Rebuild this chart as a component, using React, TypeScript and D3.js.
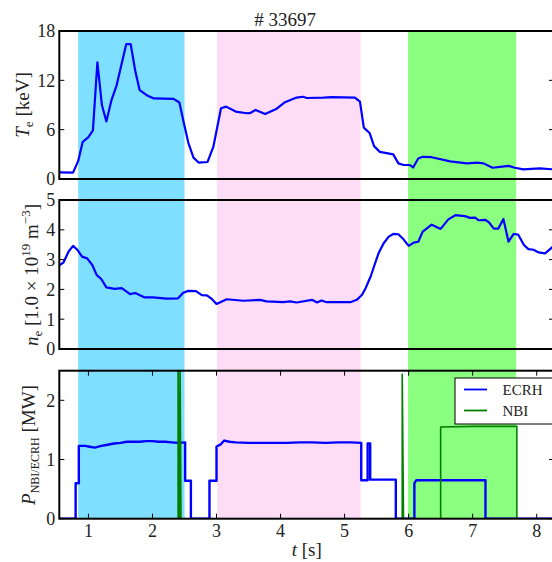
import React, { useRef, useEffect } from "react";
import * as d3 from "d3";

// Te [keV]
const teTime = [0.55, 0.76, 0.84, 0.91, 1.0, 1.07, 1.14, 1.21, 1.28, 1.36, 1.44, 1.59, 1.66, 1.73, 1.8, 1.91, 2.02, 2.33, 2.42, 2.49, 2.56, 2.64, 2.72, 2.86, 2.95, 3.07, 3.15, 3.3, 3.47, 3.52, 3.61, 3.76, 3.94, 4.06, 4.25, 4.35, 4.41, 4.67, 4.8, 5.16, 5.24, 5.3, 5.39, 5.46, 5.55, 5.76, 5.84, 5.92, 6.02, 6.07, 6.15, 6.22, 6.36, 6.65, 6.91, 7.07, 7.17, 7.31, 7.46, 7.56, 7.66, 7.79, 8.05, 8.3];
const teVal = [0.8, 0.77, 2.2, 4.5, 5.1, 5.9, 14.2, 9.0, 7.0, 9.6, 11.4, 16.4, 16.4, 13.2, 10.8, 10.2, 9.8, 9.75, 9.3, 6.8, 4.4, 2.6, 2.0, 2.07, 3.9, 8.6, 8.8, 8.2, 8.0, 8.0, 8.4, 7.9, 8.55, 9.3, 9.9, 10.0, 9.85, 9.9, 9.95, 9.9, 9.4, 6.25, 5.6, 4.0, 3.3, 3.0, 1.9, 1.7, 1.7, 1.4, 2.5, 2.7, 2.65, 2.15, 1.9, 2.0, 1.9, 1.37, 1.5, 1.6, 1.37, 1.17, 1.3, 1.15];

// ne [1e19 m^-3]
const neTime = [0.55, 0.61, 0.69, 0.76, 0.83, 0.9, 0.98, 1.06, 1.13, 1.2, 1.28, 1.41, 1.52, 1.65, 1.73, 1.88, 2.01, 2.22, 2.4, 2.48, 2.56, 2.68, 2.77, 2.85, 2.93, 3.0, 3.16, 3.42, 3.68, 3.78, 4.04, 4.15, 4.25, 4.49, 4.57, 4.64, 4.72, 5.09, 5.19, 5.27, 5.33, 5.41, 5.45, 5.53, 5.61, 5.69, 5.76, 5.84, 5.92, 6.0, 6.08, 6.15, 6.22, 6.36, 6.5, 6.62, 6.73, 6.88, 6.96, 7.04, 7.09, 7.2, 7.25, 7.33, 7.4, 7.48, 7.56, 7.64, 7.71, 7.8, 7.87, 7.95, 8.03, 8.13, 8.24, 8.3];
const neVal = [2.82, 2.9, 3.27, 3.46, 3.32, 3.1, 3.04, 2.82, 2.48, 2.35, 2.07, 2.02, 2.04, 1.84, 1.88, 1.73, 1.73, 1.69, 1.7, 1.89, 1.95, 1.94, 1.81, 1.8, 1.67, 1.51, 1.67, 1.62, 1.65, 1.6, 1.57, 1.6, 1.56, 1.65, 1.56, 1.63, 1.57, 1.57, 1.65, 1.81, 2.05, 2.45, 2.71, 3.21, 3.55, 3.77, 3.86, 3.85, 3.68, 3.46, 3.57, 3.6, 3.94, 4.17, 4.03, 4.35, 4.49, 4.46, 4.4, 4.41, 4.32, 4.33, 4.26, 4.04, 4.04, 4.36, 3.6, 3.86, 3.84, 3.49, 3.35, 3.33, 3.24, 3.21, 3.41, 3.55];

// ECRH [MW]
const ecrhTime = [0.55, 0.8, 0.8, 0.85, 0.85, 0.95, 1.0, 1.1, 1.2, 1.3, 1.4, 1.5, 1.6, 1.7, 1.8, 1.9, 2.0, 2.1, 2.2, 2.3, 2.4, 2.51, 2.51, 2.6, 2.6, 2.89, 2.89, 3.0, 3.0, 3.06, 3.12, 3.2, 3.3, 3.5, 3.7, 3.9, 4.1, 4.3, 4.5, 4.7, 4.9, 5.1, 5.26, 5.26, 5.36, 5.36, 5.4, 5.4, 5.8, 5.8, 6.09, 6.09, 6.12, 7.2, 7.2, 8.3];
const ecrhVal = [0, 0, 0.6, 0.6, 1.23, 1.23, 1.22, 1.2, 1.23, 1.25, 1.27, 1.28, 1.3, 1.3, 1.3, 1.31, 1.31, 1.3, 1.3, 1.29, 1.28, 1.29, 0.64, 0.64, 0, 0, 0.64, 0.64, 1.22, 1.25, 1.32, 1.3, 1.29, 1.28, 1.28, 1.28, 1.28, 1.29, 1.29, 1.28, 1.29, 1.29, 1.28, 0.65, 0.65, 1.27, 1.27, 0.66, 0.66, 0, 0, 0.6, 0.65, 0.65, 0, 0];

// NBI [MW]
const nbiTime = [0.55, 2.4, 2.4, 2.415, 2.43, 2.43, 2.445, 5.9, 5.9, 5.92, 6.5, 6.5, 7.0, 7.69, 7.69, 8.3];
const nbiVal = [0, 0, 2.8, 0, 0, 2.8, 0, 0, 2.44, 0, 0, 1.55, 1.56, 1.56, 0, 0];

// heating phases [s]
const phaseStart = [0.84, 3.01, 5.99];
const phaseEnd = [2.5, 5.25, 7.68];
const phaseColor = ["#7fdfff", "#fddcf6", "#8aff80"];

const xTicks = [1, 2, 3, 4, 5, 6, 7, 8];
const teTicks = [0, 6, 12, 18];
const neTicks = [0, 1, 2, 3, 4, 5];
const pTicks = [0, 1, 2];

const FONT = "Liberation Serif";

export default function App() {
  const ref = useRef<SVGSVGElement>(null);

  useEffect(() => {
    const svg = d3.select(ref.current);
    svg.selectChildren().remove();
    svg.attr("font-family", FONT);

    const x = d3.scaleLinear().domain([0.545, 8.27]).range([59.3, 554]);
    const x0 = x.range()[0],
      x1 = x.range()[1];

    const panels = [
      { y: d3.scaleLinear().domain([0, 18]).range([179, 31]), ticks: teTicks },
      { y: d3.scaleLinear().domain([0, 5]).range([349, 200]), ticks: neTicks },
      { y: d3.scaleLinear().domain([0, 2.5]).range([518.7, 370.7]), ticks: pTicks },
    ];

    // Fases sombreadas
    svg
      .append("g")
      .selectAll("rect")
      .data(phaseStart)
      .join("rect")
      .attr("x", (d) => x(d))
      .attr("width", (d, i) => x(phaseEnd[i]) - x(d))
      .attr("y", 31)
      .attr("height", 518.7 - 31)
      .attr("fill", (d, i) => phaseColor[i]);

    const series = [
      [{ t: teTime, v: teVal, color: "#0000ff", w: 2.2 }],
      [{ t: neTime, v: neVal, color: "#0000ff", w: 2.2 }],
      [
        { t: ecrhTime, v: ecrhVal, color: "#0000ff", w: 2.4 },
        { t: nbiTime, v: nbiVal, color: "#007f00", w: 1.6 },
      ],
    ];

    panels.forEach((p, k) => {
      const [yb, yt] = p.y.range();
      const clipId = `clip${k}`;
      svg
        .append("clipPath")
        .attr("id", clipId)
        .append("rect")
        .attr("x", x0)
        .attr("y", yt)
        .attr("width", x1 - x0)
        .attr("height", yb - yt);

      const g = svg.append("g").attr("clip-path", `url(#${clipId})`);
      series[k].forEach((s) => {
        const line = d3
          .line<number>()
          .x((d) => x(d))
          .y((d, i) => p.y(s.v[i]));
        g.append("path")
          .attr("d", line(s.t))
          .attr("fill", "none")
          .attr("stroke", s.color)
          .attr("stroke-width", s.w)
          .attr("stroke-linejoin", "round");
      });

      // Ticks Y (izquierda y derecha, hacia dentro)
      const tk = svg.append("g").attr("stroke", "black").attr("stroke-width", 1);
      p.ticks.forEach((t) => {
        tk.append("line").attr("x1", x0).attr("x2", x0 + 5).attr("y1", p.y(t)).attr("y2", p.y(t));
        tk.append("line").attr("x1", x1).attr("x2", x1 - 5).attr("y1", p.y(t)).attr("y2", p.y(t));
      });
      svg
        .append("g")
        .selectAll("text")
        .data(p.ticks)
        .join("text")
        .attr("x", x0 - 4)
        .attr("y", (d) => p.y(d))
        .attr("dy", "0.36em")
        .attr("text-anchor", "end")
        .attr("font-size", 18)
        .attr("fill", "#222")
        .text((d) => d);

      if (k === 2) {
        xTicks.forEach((t) => {
          tk.append("line").attr("x1", x(t)).attr("x2", x(t)).attr("y1", yb).attr("y2", yb - 5);
          tk.append("line").attr("x1", x(t)).attr("x2", x(t)).attr("y1", yt).attr("y2", yt + 5);
        });
        svg
          .append("g")
          .selectAll("text")
          .data(xTicks)
          .join("text")
          .attr("x", (d) => x(d))
          .attr("y", yb + 18)
          .attr("text-anchor", "middle")
          .attr("font-size", 18)
          .attr("fill", "#222")
          .text((d) => d);
      }

      // Marco
      svg
        .append("rect")
        .attr("x", x0)
        .attr("y", yt)
        .attr("width", x1 - x0)
        .attr("height", yb - yt)
        .attr("fill", "none")
        .attr("stroke", "black")
        .attr("stroke-width", 2);
    });

    // Título
    svg
      .append("text")
      .attr("x", 285)
      .attr("y", 26)
      .attr("text-anchor", "middle")
      .attr("font-size", 19)
      .attr("fill", "#222")
      .text("# 33697");

    // Rótulos eje Y
    const ylabel = (cx: number, cy: number) =>
      svg
        .append("text")
        .attr("transform", `translate(${cx},${cy}) rotate(-90)`)
        .attr("text-anchor", "middle")
        .attr("font-size", 19)
        .attr("fill", "#222");

    const l1 = ylabel(29, 105);
    l1.append("tspan").attr("font-style", "italic").text("T");
    l1.append("tspan").attr("dy", 4).attr("font-size", 13).text("e");
    l1.append("tspan").attr("dy", -4).text(" [keV]");

    const l2 = ylabel(38, 275);
    l2.append("tspan").attr("font-style", "italic").text("n");
    l2.append("tspan").attr("dy", 4).attr("font-size", 13).text("e");
    l2.append("tspan").attr("dy", -4).text(" [1.0 × 10");
    l2.append("tspan").attr("dy", -8).attr("font-size", 13).text("19");
    l2.append("tspan").attr("dy", 8).text(" m");
    l2.append("tspan").attr("dy", -8).attr("font-size", 13).text("−3");
    l2.append("tspan").attr("dy", 8).text("]");

    const l3 = ylabel(35, 445);
    l3.append("tspan").attr("font-style", "italic").text("P");
    l3.append("tspan").attr("dy", 4).attr("font-size", 12).text("NBI/ECRH");
    l3.append("tspan").attr("dy", -4).text(" [MW]");

    // Rótulo eje X
    const xl = svg
      .append("text")
      .attr("x", 306.7)
      .attr("y", 556)
      .attr("text-anchor", "middle")
      .attr("font-size", 19)
      .attr("fill", "#222");
    xl.append("tspan").attr("font-style", "italic").text("t");
    xl.append("tspan").text(" [s]");

    // Leyenda
    const lg = svg.append("g");
    lg.append("rect")
      .attr("x", 455)
      .attr("y", 378)
      .attr("width", 98)
      .attr("height", 46)
      .attr("fill", "white")
      .attr("stroke", "black")
      .attr("stroke-width", 1);
    const items = [
      { name: "ECRH", color: "#0000ff", y: 389.5 },
      { name: "NBI", color: "#007f00", y: 410.5 },
    ];
    items.forEach((it) => {
      lg.append("line")
        .attr("x1", 464)
        .attr("x2", 487)
        .attr("y1", it.y)
        .attr("y2", it.y)
        .attr("stroke", it.color)
        .attr("stroke-width", 1.8);
      lg.append("text")
        .attr("x", 502.5)
        .attr("y", it.y)
        .attr("dy", "0.35em")
        .attr("font-size", 15)
        .attr("fill", "#222")
        .text(it.name);
    });
  }, []);

  return (
    <svg
      ref={ref}
      width={552}
      height={562}
      style={{ position: "absolute", left: 0, top: 0, background: "white" }}
    />
  );
}
